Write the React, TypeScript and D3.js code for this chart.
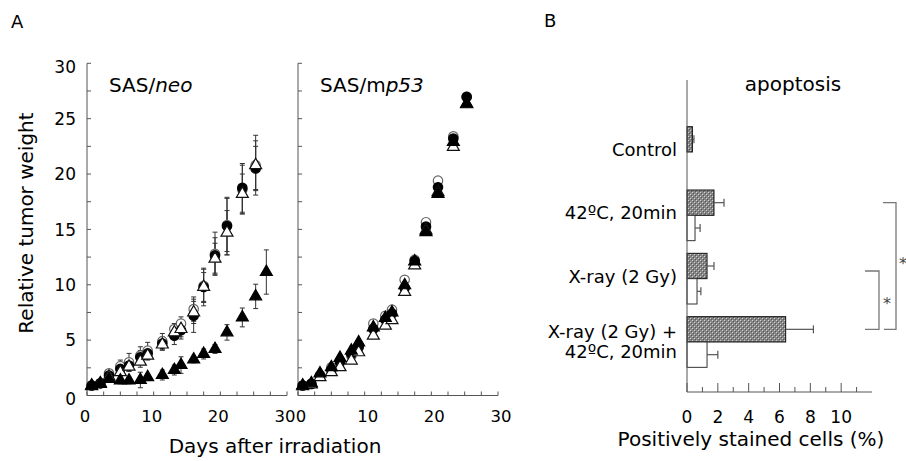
import React from "react";
import * as d3 from "d3";

// ---- Panel A data (days after irradiation, relative tumor weight) ----
const days = [0.7, 2, 3.3, 5, 6.3, 8, 9.1, 11.3, 13.1, 14.1, 16, 17.5, 19.2, 21, 23.3, 25.3, 26.9];

// SAS/neo
const neoOpenCircle = [0.9, 1.1, 2.0, 2.65, 3.0, 3.6, 4.05, 4.9, 6.0, 6.5, 7.8, 9.9, 12.8, 15.4, 18.6, 20.8];
const neoFilledCircle = [0.9, 1.1, 1.8, 2.4, 2.7, 3.45, 3.8, 4.7, 5.4, 5.9, 7.2, 9.8, 12.65, 15.3, 18.75, 20.5];
const neoOpenTri = [0.85, 1.1, 1.7, 2.1, 2.6, 3.05, 3.6, 4.6, 5.7, 6.0, 7.5, 9.8, 12.35, 14.7, 18.2, 20.8];
const neoFilledTri = [0.9, 1.05, 1.5, 1.35, 1.35, 1.4, 1.65, 1.85, 2.3, 2.75, 3.25, 3.75, 4.2, 5.7, 7.05, 8.95, 11.15];
const neoErrOpenCircle = [0.1, 0.15, 0.3, 0.55, 0.8, 0.8, 0.75, 0.7, 0.5, 0.6, 1.1, 1.5, 1.95, 2.4, 2.2, 2.7];
const neoErrFilledCircle = [0.1, 0.15, 0.25, 0.4, 0.5, 0.6, 0.5, 0.6, 0.8, 0.8, 1.5, 1.7, 1.6, 2.6, 2.2, 2.0];
const neoErrOpenTri = [0.1, 0.1, 0.2, 0.3, 0.4, 0.5, 0.4, 0.5, 0.6, 0.7, 1.0, 1.3, 1.4, 2.0, 1.8, 2.2];
const neoErrFilledTri = [0.1, 0.1, 0.2, 0.3, 0.3, 0.7, 0.3, 0.45, 0.45, 0.75, 0.3, 0.45, 0.4, 0.7, 0.85, 1.1, 2.0];

// SAS/mp53
const mpOpenCircle = [0.9, 1.05, 1.8, 2.55, 3.1, 3.6, 4.5, 6.5, 7.2, 7.75, 10.45, 12.25, 15.65, 19.4, 23.4, 27.0];
const mpFilledCircle = [0.9, 1.05, 1.8, 2.3, 3.0, 3.75, 4.35, 6.0, 6.85, 7.4, 9.7, 12.15, 15.25, 18.8, 23.2, 26.95];
const mpOpenTri = [0.85, 1.0, 1.65, 2.1, 2.55, 3.15, 3.9, 5.4, 6.3, 6.8, 9.35, 11.75, 14.9, 18.35, 22.45, 26.3];
const mpFilledTri = [0.9, 1.1, 2.0, 2.55, 3.4, 4.05, 4.8, 6.15, 7.0, 7.5, 9.95, 12.1, 14.75, 18.2, 22.9, 26.35];

// ---- Panel B data (apoptosis, % positively stained cells) ----
const apoCategories = ["Control", "42ºC, 20min", "X-ray (2 Gy)", "X-ray (2 Gy) +\n42ºC, 20min"];
const apoGray = [0.35, 1.75, 1.3, 6.4];
const apoGrayErr = [0.1, 0.65, 0.45, 1.8];
const apoWhite = [0, 0.52, 0.65, 1.3];
const apoWhiteErr = [0, 0.33, 0.25, 0.7];

const FONT = "'DejaVu Sans', sans-serif";
const AXIS = "#555";

type Series = { values: number[]; errs?: number[]; shape: "circle" | "triangle"; filled: boolean };

const circlePath = d3.symbol().type(d3.symbolCircle).size(70)() as string;
const trianglePath = d3.symbol().type(d3.symbolTriangle).size(62)() as string;

const yA = d3.scaleLinear().domain([0, 30]).range([395.5, 63.3]);

function GrowthPanel({ range, series, showYLabels, title, labelShift }: {
  range: [number, number]; series: Series[]; showYLabels: boolean; title: React.ReactNode; labelShift: number;
}) {
  const x = d3.scaleLinear().domain([0, 30]).range(range);
  const ticks = d3.range(0, 30.01, 2.5);
  return (
    <g>
      {/* axes */}
      <line x1={x(0)} x2={x(0)} y1={yA(30)} y2={yA(0)} stroke={AXIS} />
      <line x1={x(0)} x2={x(30)} y1={yA(0)} y2={yA(0)} stroke={AXIS} />
      {ticks.map((t) => (
        <g key={"t" + t}>
          <line x1={x(0)} x2={x(0) + 4} y1={yA(t)} y2={yA(t)} stroke={AXIS} />
          <line x1={x(t)} x2={x(t)} y1={yA(0)} y2={yA(0) - 4} stroke={AXIS} />
        </g>
      ))}
      {showYLabels &&
        [0, 5, 10, 15, 20, 25, 30].map((t) => (
          <text key={"yl" + t} x={x(0) - 11} y={yA(t) + (t === 30 ? 4 : t === 0 ? 3 : 0)} dy="0.36em"
            textAnchor="end" fontSize={17}>
            {t}
          </text>
        ))}
      {[0, 10, 20, 30].map((t) => (
        <text key={"xl" + t} x={x(t) + labelShift} y={421.5} textAnchor="middle" fontSize={16.5}>
          {t}
        </text>
      ))}
      <text x={x(0) + 22} y={92} fontSize={20}>{title}</text>

      {/* error bars */}
      {series.map((s, si) =>
        s.errs
          ? s.values.map((v, i) => {
              const e = s.errs![i];
              const cx = x(days[i]);
              return (
                <g key={`e${si}-${i}`} stroke="#333" strokeWidth={1}>
                  <line x1={cx} x2={cx} y1={yA(v - e)} y2={yA(v + e)} />
                  <line x1={cx - 2.5} x2={cx + 2.5} y1={yA(v - e)} y2={yA(v - e)} />
                  <line x1={cx - 2.5} x2={cx + 2.5} y1={yA(v + e)} y2={yA(v + e)} />
                </g>
              );
            })
          : null
      )}

      {/* markers */}
      {series.map((s, si) =>
        s.values.map((v, i) => (
          <path
            key={`m${si}-${i}`}
            d={s.shape === "circle" ? circlePath : trianglePath}
            transform={`translate(${x(days[i])},${yA(v)})`}
            fill={s.filled ? "#000" : "#fff"}
            stroke={s.filled ? "#000" : s.shape === "circle" ? "#666" : "#111"}
            strokeWidth={1.2}
          />
        ))
      )}
    </g>
  );
}

function ApoptosisPanel() {
  const x = d3.scaleLinear().domain([0, 12]).range([687, 872]);
  const y = d3.scaleBand().domain(apoCategories).range([114, 380]).paddingInner(0.2).paddingOuter(0.2);
  const bw = y.bandwidth();
  const half = bw / 2;
  const grayMid = (c: string) => (y(c) as number) + half / 2;
  const yBase = 392;
  return (
    <g>
      <defs>
        <pattern id="grayDots" width={4} height={4} patternUnits="userSpaceOnUse">
          <rect width={4} height={4} fill="#858585" />
          <rect x={0} y={0} width={1} height={1} fill="#d2d2d2" />
          <rect x={2} y={2} width={1} height={1} fill="#d2d2d2" />
          <rect x={1} y={1} width={1} height={1} fill="#555" />
          <rect x={3} y={3} width={1} height={1} fill="#555" />
        </pattern>
      </defs>
      <text x={793} y={91} textAnchor="middle" fontSize={20}>apoptosis</text>

      {apoCategories.map((c, i) => {
        const top = y(c) as number;
        const lines = c.split("\n");
        const mid = top + half;
        return (
          <g key={c}>
            <rect x={x(0)} y={top} width={x(apoGray[i]) - x(0)} height={half}
              fill="url(#grayDots)" stroke="#111" strokeWidth={1} />
            <g stroke={AXIS} strokeWidth={1.2}>
              <line x1={x(apoGray[i])} x2={x(apoGray[i] + apoGrayErr[i])} y1={top + half / 2} y2={top + half / 2} />
              <line x1={x(apoGray[i] + apoGrayErr[i])} x2={x(apoGray[i] + apoGrayErr[i])}
                y1={top + half / 2 - 4} y2={top + half / 2 + 4} />
            </g>
            {apoWhite[i] > 0 && (
              <g>
                <rect x={x(0)} y={top + half} width={x(apoWhite[i]) - x(0)} height={half}
                  fill="#fff" stroke="#333" strokeWidth={1} />
                <g stroke={AXIS} strokeWidth={1.2}>
                  <line x1={x(apoWhite[i])} x2={x(apoWhite[i] + apoWhiteErr[i])}
                    y1={top + half * 1.5} y2={top + half * 1.5} />
                  <line x1={x(apoWhite[i] + apoWhiteErr[i])} x2={x(apoWhite[i] + apoWhiteErr[i])}
                    y1={top + half * 1.5 - 4} y2={top + half * 1.5 + 4} />
                </g>
              </g>
            )}
            {lines.length === 1 ? (
              <text x={677} y={mid + 4} textAnchor="end" fontSize={18}>{lines[0]}</text>
            ) : (
              lines.map((l, k) => (
                <text key={k} x={677} y={mid - 4 + k * 20} textAnchor="end" fontSize={18}>{l}</text>
              ))
            )}
          </g>
        );
      })}

      {/* axes */}
      <line x1={x(0)} x2={x(0)} y1={80} y2={yBase} stroke={AXIS} />
      <line x1={x(0)} x2={x(12)} y1={yBase} y2={yBase} stroke={AXIS} />
      {d3.range(0, 12).map((t) => (
        <line key={t} x1={x(t)} x2={x(t)} y1={yBase} y2={yBase - (t % 2 === 0 ? 9 : 5)} stroke={AXIS} />
      ))}
      {[0, 2, 4, 6, 8, 10].map((t) => (
        <text key={"bl" + t} x={x(t)} y={423} textAnchor="middle" fontSize={17}>{t}</text>
      ))}

      {/* significance brackets */}
      <g stroke="#777" strokeWidth={1.3} fill="none">
        <polyline points={`883,${grayMid(apoCategories[1])} 896,${grayMid(apoCategories[1])} 896,${grayMid(apoCategories[3])} 884,${grayMid(apoCategories[3])}`} />
        <polyline points={`865,${grayMid(apoCategories[2]) + 5} 879,${grayMid(apoCategories[2]) + 5} 879,${grayMid(apoCategories[3])} 865,${grayMid(apoCategories[3])}`} />
      </g>
      <text x={899} y={269} fontSize={16} fill="#444">*</text>
      <text x={883} y={309} fontSize={16} fill="#444">*</text>

      <text x={751} y={446} textAnchor="middle" fontSize={20}>Positively stained cells (%)</text>
    </g>
  );
}

export default function App() {
  const neoSeries: Series[] = [
    { values: neoOpenCircle, errs: neoErrOpenCircle, shape: "circle", filled: false },
    { values: neoFilledCircle, errs: neoErrFilledCircle, shape: "circle", filled: true },
    { values: neoOpenTri, errs: neoErrOpenTri, shape: "triangle", filled: false },
    { values: neoFilledTri, errs: neoErrFilledTri, shape: "triangle", filled: true },
  ];
  const mpSeries: Series[] = [
    { values: mpOpenCircle, shape: "circle", filled: false },
    { values: mpFilledCircle, shape: "circle", filled: true },
    { values: mpOpenTri, shape: "triangle", filled: false },
    { values: mpFilledTri, shape: "triangle", filled: true },
  ];
  return (
    <svg width={906} height={461} style={{ position: "absolute", left: 0, top: 0, background: "#fff" }}
      fontFamily={FONT} fill="#000">
      <text x={11} y={28} fontSize={18}>A</text>
      <text x={544} y={27} fontSize={18}>B</text>
      <text transform="translate(33,223) rotate(-90)" textAnchor="middle" fontSize={20}>Relative tumor weight</text>
      <GrowthPanel range={[87, 287]} series={neoSeries} showYLabels labelShift={-2}
        title={<>SAS/<tspan fontStyle="italic">neo</tspan></>} />
      <GrowthPanel range={[298, 498]} series={mpSeries} showYLabels={false} labelShift={3}
        title={<>SAS/m<tspan fontStyle="italic">p53</tspan></>} />
      <text x={275} y={453} textAnchor="middle" fontSize={20}>Days after irradiation</text>
      <ApoptosisPanel />
    </svg>
  );
}
